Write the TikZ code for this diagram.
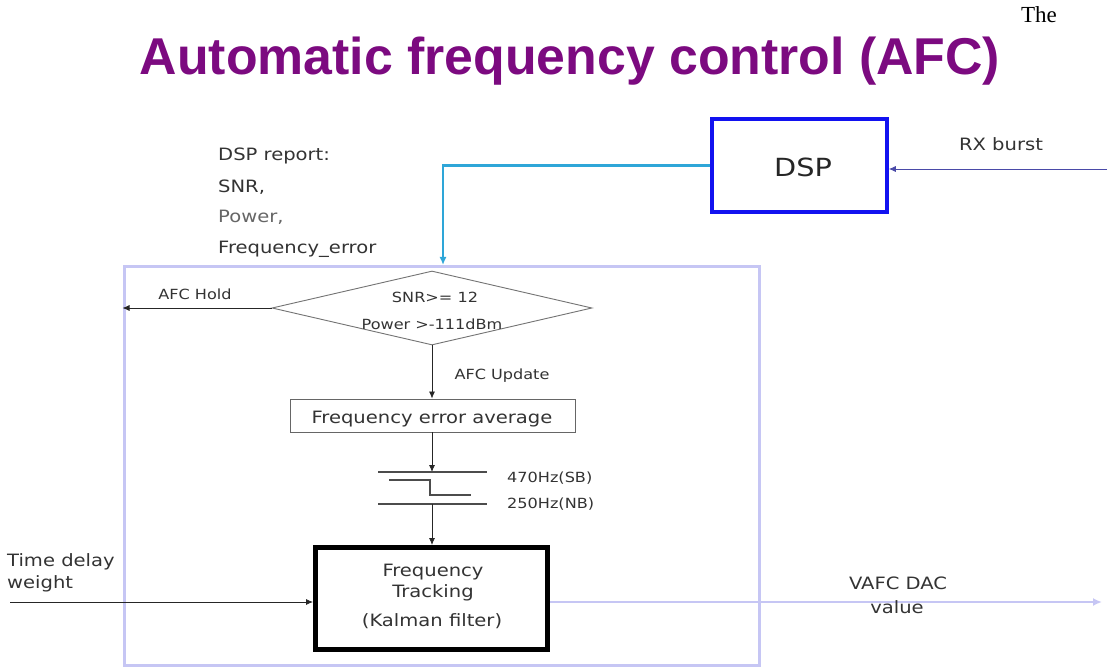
\documentclass[tikz,border=0pt]{standalone}
\usepackage{fontspec}
\setmainfont{DejaVu Sans}[FakeStretch=1.15]
\newfontfamily\titlefont{Liberation Sans}
\newfontfamily\serifft{Liberation Serif}
\usetikzlibrary{shapes.geometric,arrows.meta}
\definecolor{titlepurple}{HTML}{7C0A80}
\definecolor{dspblue}{HTML}{1212F0}
\definecolor{cyanline}{HTML}{2EA6D8}
\definecolor{lav}{HTML}{C6C6F4}
\definecolor{txt}{HTML}{333333}
\definecolor{rxline}{HTML}{4A4AA8}
\tikzset{
  lbl/.style={font=\fontsize{17}{19}\selectfont, text=txt, inner sep=0pt},
  small/.style={font=\fontsize{14}{16}\selectfont, text=txt, inner sep=0pt},
  arr/.style={-{Latex[length=7pt,width=6pt]}, line width=0.8pt, draw=black!85},
  thinbox/.style={draw=black!60, line width=0.9pt, inner sep=0pt},
}
\begin{document}
\begin{tikzpicture}[x=1pt,y=-1pt]
\useasboundingbox[fill=white] (0,0) rectangle (1113,668);
% titles
\node[font=\serifft\fontsize{23}{25}\selectfont, anchor=base, inner sep=0pt] (the) at (1039,23) {The};
\node[font=\titlefont\bfseries\fontsize{51.8}{56}\selectfont, text=titlepurple, anchor=base, inner sep=0pt] (title) at (570,75) {Automatic frequency control (AFC)};
% big container
\node[draw=lav, line width=3pt, minimum width=635pt, minimum height=398pt, inner sep=0pt] (afc) at (441.5,466) {};
% DSP
\node[draw=dspblue, line width=3.5pt, minimum width=175pt, minimum height=93pt, inner sep=0pt] (dsp) at (799.5,165.5) {};
\node[font=\fontsize{25}{27}\selectfont, text=black!85, anchor=base, inner sep=0pt] (dsptxt) at (803,177) {DSP};
\coordinate (rxin) at (1107,169);
\draw[-{Latex[length=7pt,width=6pt]}, line width=0.9pt, draw=rxline] (rxin) -- (rxin -| dsp.east);
\node[lbl, anchor=base] (rxtxt) at (1001,151) {RX burst};
% DSP report
\coordinate (cyanend) at (443,265);
\draw[-{Latex[length=8pt,width=7pt]}, line width=2.6pt, draw=cyanline] (dsp.west) -| (cyanend);
\node[lbl, anchor=base west] (rep1) at (218,161) {DSP report:};
\node[lbl, anchor=base west] (rep2) at (218,193) {SNR,};
\node[lbl, anchor=base west, text=txt!75] (rep3) at (218,223) {Power,};
\node[lbl, anchor=base west] (rep4) at (218,254) {Frequency\_error};
% decision
\node[diamond, draw=black!55, line width=0.9pt, minimum width=320pt, minimum height=74pt, inner sep=0pt] (dec) at (432,308) {};
\node[small, anchor=base] (snr) at (435,302) {SNR>= 12};
\node[small, anchor=base] (pow) at (432,329) {Power >-111dBm};
\draw[arr] (dec.west) -- (dec.west -| afc.west);
\node[small, anchor=base] (hold) at (195,299) {AFC Hold};
% average
\node[thinbox, minimum width=285pt, minimum height=33pt] (fea) at (432.5,415.5) {};
\node[lbl, anchor=base] (featxt) at (432,423) {Frequency error average};
\draw[arr] (dec.south) -- (dec.south |- fea.north);
\node[small, anchor=base] (upd) at (502,379) {AFC Update};
% bandwidth switch
\coordinate (f1) at (432,472);
\coordinate (f3) at (432,504);
\draw[arr] (fea.south -| f1) -- (f1);
\draw[line width=1.8pt, draw=black!70] (378,472) -- (487,472);
\draw[line width=1.8pt, draw=black!70] (389,480) -- (430,480) -- (430,495) -- (471,495);
\draw[line width=1.1pt, draw=black!70] (378,504) -- (487,504);
\node[small, anchor=base west] (sb) at (507,482) {470Hz(SB)};
\node[small, anchor=base west] (nb) at (507,508) {250Hz(NB)};
% tracking
\node[draw=black, line width=5pt, minimum width=232pt, minimum height=102pt, inner sep=0pt] (ft) at (431.5,598.5) {};
\draw[arr] (f3) -- (f3 |- ft.north);
\node[lbl, anchor=base] (ft1) at (433,576) {Frequency};
\node[lbl, anchor=base] (ft2) at (433,597) {Tracking};
\node[lbl, anchor=base] (ft3) at (432,626) {(Kalman filter)};
% time delay input
\node[lbl, anchor=base west] (td1) at (7,566) {Time delay};
\node[lbl, anchor=base west] (td2) at (7,588) {weight};
\coordinate (tdin) at (10,602);
\draw[arr] (tdin) -- (tdin -| ft.west);
% output
\coordinate (outend) at (1102,602);
\draw[-{Latex[length=9pt,width=8pt]}, line width=2.6pt, draw=lav] (outend -| ft.east) -- (outend);
\node[lbl, anchor=base] (vafc1) at (898,589) {VAFC DAC};
\node[lbl, anchor=base] (vafc2) at (897,613) {value};
\end{tikzpicture}
\end{document}
